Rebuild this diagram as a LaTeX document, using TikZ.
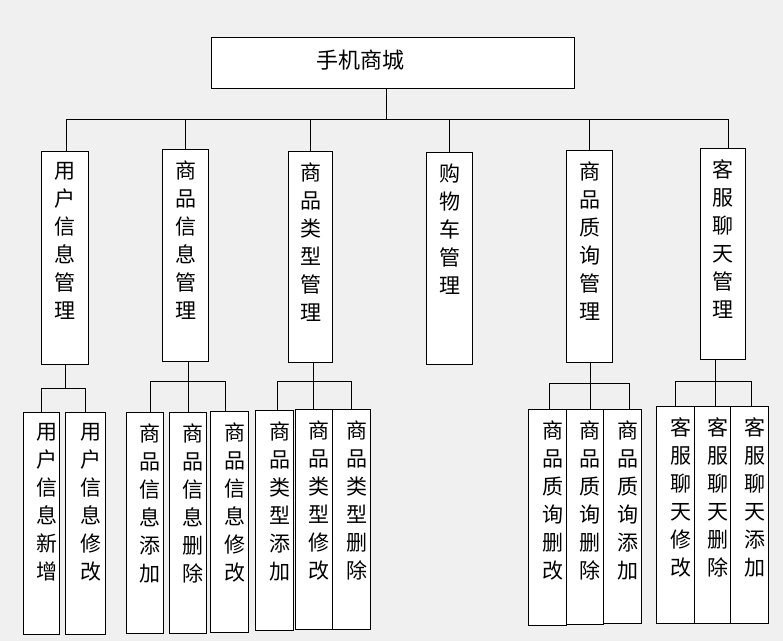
\documentclass[tikz,border=0pt]{standalone}
\usepackage{fontspec}
\newfontfamily\cjk{Noto Sans CJK SC}
\usetikzlibrary{positioning}
\definecolor{bggray}{HTML}{F0F0F0}

\begin{document}
\begin{tikzpicture}[x=1pt, y=-1pt,
  cell/.style 2 args={rectangle, draw, fill=white, line width=1pt, inner sep=0pt, anchor=north west, minimum width=#1, minimum height=#2},
  vtext/.style={font=\cjk\fontsize{21pt}{28pt}\selectfont, align=center, inner sep=0pt, anchor=north, yshift=-11pt},
  ltext/.style={vtext, xshift=5pt},
  link/.style={line width=1pt}]
\fill[bggray] (0,0) rectangle (783,641);
\useasboundingbox (0,0) rectangle (783,641);

\node[cell={363pt}{51pt}, label={[font=\cjk\fontsize{22pt}{26pt}\selectfont, inner sep=0pt, xshift=-32.5pt, yshift=3pt]center:手机商城}] (top) at (211,37) {};

\node[cell={46.4pt}{213pt}, label={[vtext]north:{用\\户\\信\\息\\管\\理}}] (m1) at (41.3,151.3) {};
\node[cell={46pt}{212pt}, label={[vtext]north:{商\\品\\信\\息\\管\\理}}] (m2) at (162.3,149.3) {};
\node[cell={44pt}{211pt}, label={[vtext]north:{商\\品\\类\\型\\管\\理}}] (m3) at (288.3,151.3) {};
\node[cell={45.4pt}{212pt}, label={[vtext]north:{购\\物\\车\\管\\理}}] (m4) at (426.3,152.3) {};
\node[cell={46pt}{212pt}, label={[vtext]north:{商\\品\\质\\询\\管\\理}}] (m5) at (566.3,150.3) {};
\node[cell={45pt}{211pt}, label={[vtext]north:{客\\服\\聊\\天\\管\\理}}] (m6) at (700.3,148.3) {};

\node[cell={35.4pt}{222pt}, label={[ltext]north:{用\\户\\信\\息\\新\\增}}] (u1) at (23.3,412.3) {};
\node[cell={40pt}{222pt}, label={[ltext]north:{用\\户\\信\\息\\修\\改}}] (u2) at (65.3,412.3) {};

\node[cell={37pt}{221pt}, label={[ltext]north:{商\\品\\信\\息\\添\\加}}] (g1) at (126.3,412.3) {};
\node[cell={37pt}{221pt}, label={[ltext]north:{商\\品\\信\\息\\删\\除}}] (g2) at (169.3,412.3) {};
\node[cell={38pt}{221pt}, label={[ltext]north:{商\\品\\信\\息\\修\\改}}] (g3) at (210.3,411.3) {};

\node[cell={37.4pt}{220pt}, label={[ltext]north:{商\\品\\类\\型\\添\\加}}] (t1) at (255.3,410.3) {};
\node[cell={37pt}{220pt}, label={[ltext]north:{商\\品\\类\\型\\修\\改}}] (t2) at (295.3,409.3) {};
\node[cell={38pt}{220pt}, label={[ltext]north:{商\\品\\类\\型\\删\\除}}] (t3) at (332.3,409.3) {};

\node[cell={38pt}{216pt}, label={[ltext]north:{商\\品\\质\\询\\删\\改}}] (q1) at (528.3,409.3) {};
\node[cell={37pt}{215pt}, label={[ltext]north:{商\\品\\质\\询\\删\\除}}] (q2) at (566.3,409.3) {};
\node[cell={38pt}{214pt}, label={[ltext]north:{商\\品\\质\\询\\添\\加}}] (q3) at (603.3,409.3) {};

\node[cell={38pt}{217pt}, label={[ltext]north:{客\\服\\聊\\天\\修\\改}}] (k1) at (656.3,406.3) {};
\node[cell={36pt}{217pt}, label={[ltext]north:{客\\服\\聊\\天\\删\\除}}] (k2) at (694.3,406.3) {};
\node[cell={38pt}{217pt}, label={[ltext]north:{客\\服\\聊\\天\\添\\加}}] (k3) at (730.3,406.3) {};

\coordinate (hub) at (386,119);
\coordinate (busl) at (66.5,119);
\coordinate (busr) at (728,119);
\draw[link] (top.south -| hub) -- (hub);
\draw[link] (busl) -- (busr);
\draw[link] (busl) -- (busl |- m1.north);
\draw[link] (m2.north) -- (m2.north |- hub);
\draw[link] (m3.north) -- (m3.north |- hub);
\draw[link] (m4.north) -- (m4.north |- hub);
\draw[link] (m5.north) -- (m5.north |- hub);
\draw[link] (busr) -- (busr |- m6.north);

\coordinate (j1) at (65.3,388);
\draw[link] (j1 |- m1.south) -- (j1);
\draw[link] (u1.north) |- (j1) -| (u2.north);

\coordinate (j2) at (188.3,381);
\draw[link] (j2 |- m2.south) -- (j2 |- g2.north);
\draw[link] ([xshift=5.5pt]g1.north) |- (j2) -| ([xshift=-4pt]g3.north);

\coordinate (j3) at (313.3,381.7);
\draw[link] (j3 |- m3.south) -- (j3 |- t2.north);
\draw[link] ([xshift=3pt]t1.north) |- (j3) -| (t3.north);

\coordinate (j5) at (590.3,383.3);
\draw[link] (j5 |- m5.south) -- (j5 |- q2.north);
\draw[link] ([xshift=2pt]q1.north) |- (j5) -| ([xshift=6.7pt]q3.north);

\coordinate (j6) at (715.3,381.3);
\draw[link] (j6 |- m6.south) -- (j6 |- k2.north);
\draw[link] (k1.north) |- (j6) -| ([xshift=2pt]k3.north);
\end{tikzpicture}
\end{document}
